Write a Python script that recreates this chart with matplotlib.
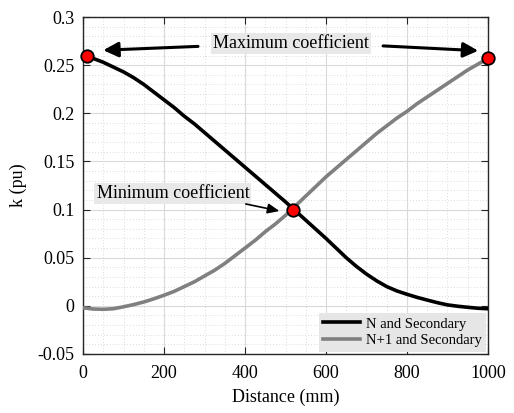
import matplotlib
matplotlib.use("Agg")
import matplotlib.pyplot as plt
from matplotlib.ticker import MultipleLocator

plt.rcParams['font.family'] = ['Liberation Serif', 'DejaVu Serif']

# Data
distance = [0, 25, 50, 75, 100, 125, 150, 175, 200, 225, 250, 275, 300, 325, 350, 375,
            400, 425, 450, 475, 500, 525, 550, 575, 600, 625, 650, 675, 700, 725, 750,
            775, 800, 825, 850, 875, 900, 925, 950, 975, 1000]
k_n = [0.260, 0.257, 0.253, 0.248, 0.243, 0.237, 0.230, 0.222, 0.214, 0.206, 0.197,
       0.189, 0.180, 0.171, 0.162, 0.153, 0.144, 0.135, 0.126, 0.117, 0.108, 0.0985,
       0.089, 0.0795, 0.070, 0.060, 0.050, 0.041, 0.033, 0.026, 0.020, 0.0155, 0.012,
       0.0088, 0.006, 0.0033, 0.001, -0.0004, -0.0015, -0.0025, -0.003]
k_n1 = [-0.002, -0.0033, -0.0036, -0.003, -0.001, 0.0013, 0.004, 0.0073, 0.011, 0.015,
        0.020, 0.025, 0.031, 0.037, 0.044, 0.052, 0.060, 0.068, 0.077, 0.085, 0.094,
        0.104, 0.114, 0.124, 0.134, 0.143, 0.152, 0.161, 0.170, 0.179, 0.187, 0.195,
        0.202, 0.210, 0.217, 0.224, 0.231, 0.238, 0.245, 0.251, 0.257]
series_labels = ["N and Secondary", "N+1 and Secondary"]

marker_x = [10, 519, 1000]
marker_y = [0.260, 0.100, 0.257]

xticks = [0, 200, 400, 600, 800, 1000]
yticks = [-0.05, 0, 0.05, 0.1, 0.15, 0.2, 0.25, 0.3]
ytick_labels = ["-0.05", "0", "0.05", "0.1", "0.15", "0.2", "0.25", "0.3"]

fig = plt.figure(figsize=(5.14, 4.13), dpi=100)
ax = fig.add_axes([0.1615, 0.1429, 0.7879, 0.8159])

ax.plot(distance, k_n, color='black', lw=2.6, label=series_labels[0], zorder=3,
        solid_joinstyle='round')
ax.plot(distance, k_n1, color='#808080', lw=2.6, label=series_labels[1], zorder=3,
        solid_joinstyle='round')
ax.plot(marker_x, marker_y, 'o', color='red', mec='black', mew=1.3, ms=9,
        clip_on=False, zorder=5)

ax.set_xlim(0, 1000)
ax.set_ylim(-0.05, 0.3)
ax.set_xticks(xticks)
ax.set_xticklabels([str(v) for v in xticks])
ax.set_yticks(yticks)
ax.set_yticklabels(ytick_labels)
ax.xaxis.set_minor_locator(MultipleLocator(50))
ax.yaxis.set_minor_locator(MultipleLocator(0.01))

ax.grid(which='major', color='#dadada', lw=0.8, ls='-', zorder=0)
ax.grid(which='minor', color='#d0d0d0', lw=0.6, ls=(0, (1, 2.5)), zorder=0)
ax.set_axisbelow(True)

ax.tick_params(which='both', direction='in', top=True, right=True, labelsize=13,
               color='#262626')
ax.tick_params(which='minor', length=0)
ax.tick_params(which='major', length=5, width=0.8)
ax.tick_params(axis='x', which='major', pad=8)
ax.tick_params(axis='y', which='major', pad=6)
for s in ax.spines.values():
    s.set_color('#262626')
    s.set_linewidth(1.0)

ax.set_xlabel("Distance (mm)", fontsize=13, labelpad=5)
ax.set_ylabel("k (pu)", fontsize=13, labelpad=8)

box = dict(boxstyle='square,pad=0.12', facecolor='#e8e8e8', edgecolor='none')
ax.text(513, 0.2725, "Maximum coefficient", fontsize=13, ha='center', va='center',
        bbox=box, zorder=6)
ax.text(222, 0.1165, "Minimum coefficient", fontsize=13, ha='center', va='center',
        bbox=box, zorder=6)

big = dict(arrowstyle='-|>,head_length=0.9,head_width=0.45', color='black', lw=2.2,
           shrinkA=0, shrinkB=0)
small = dict(arrowstyle='-|>,head_length=0.7,head_width=0.3', color='black', lw=1.2,
             shrinkA=0, shrinkB=0)
ax.annotate("", xy=(50, 0.2655), xytext=(284, 0.2695), arrowprops=big, zorder=6)
ax.annotate("", xy=(976, 0.2650), xytext=(741, 0.2700), arrowprops=big, zorder=6)
ax.annotate("", xy=(485, 0.0985), xytext=(402, 0.1058), arrowprops=small, zorder=6)

leg = ax.legend(loc='lower right', fontsize=10.5, frameon=True, fancybox=False,
                facecolor='#e6e6e6', edgecolor='none', framealpha=1,
                borderpad=0.3, labelspacing=0.25, handlelength=2.5,
                handletextpad=0.4, borderaxespad=0.15)
leg.get_frame().set_linewidth(0)

fig.savefig("out.png", dpi=100)
